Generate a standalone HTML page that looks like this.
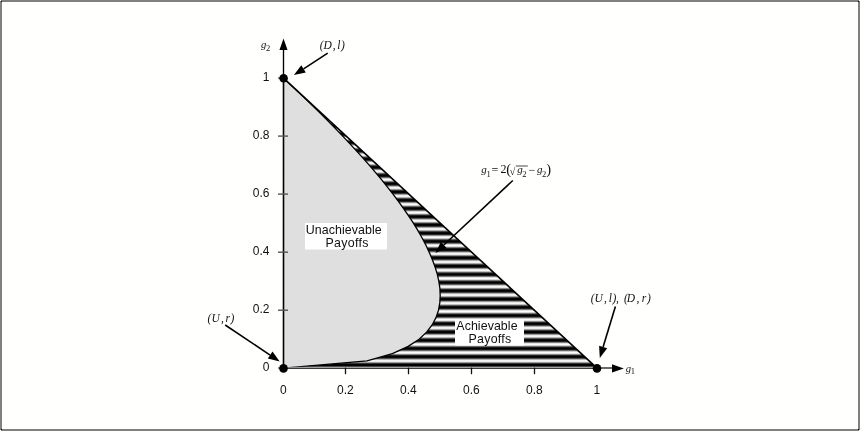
<!DOCTYPE html>
<html><head><meta charset="utf-8"><title>Payoffs</title>
<style>
html,body{margin:0;padding:0;background:#fffffd;}
body{width:860px;height:431px;overflow:hidden;position:relative;}
svg{position:absolute;left:0;top:0;display:block;}
.t{font-family:"Liberation Sans",sans-serif;font-size:12px;fill:#111;}
.l{font-family:"Liberation Sans",sans-serif;font-size:12.4px;fill:#111;letter-spacing:0.07px;}
.m{font-family:"Liberation Serif",serif;font-size:12px;fill:#111;}
.i{font-style:italic;}
.s{font-size:8.5px;}
</style></head><body>
<svg width="860" height="431" viewBox="0 0 860 431">
<defs>
<linearGradient id="sg" x1="0" y1="0" x2="0" y2="1">
<stop offset="0" stop-color="#000"/><stop offset="0.12" stop-color="#000"/>
<stop offset="0.42" stop-color="#fff"/><stop offset="0.58" stop-color="#fff"/>
<stop offset="0.88" stop-color="#000"/><stop offset="1" stop-color="#000"/>
</linearGradient>
<pattern id="st" x="0" y="365.0" width="40" height="8.24" patternUnits="userSpaceOnUse">
<rect x="0" y="0" width="40" height="8.24" fill="url(#sg)"/>
</pattern>
</defs>
<rect x="0" y="0" width="860" height="431" fill="#fffffd"/>
<rect x="1" y="1" width="858" height="429" fill="none" stroke="#808080" stroke-width="2"/>
<rect x="0" y="0" width="1" height="1" fill="#fffffd"/><rect x="859" y="0" width="1" height="1" fill="#fffffd"/>
<rect x="0" y="430" width="1" height="1" fill="#fffffd"/><rect x="859" y="430" width="1" height="1" fill="#fffffd"/>
<rect x="1" y="1" width="1" height="1" fill="#000"/><rect x="858" y="1" width="1" height="1" fill="#000"/>
<rect x="1" y="429" width="1" height="1" fill="#000"/><rect x="858" y="429" width="1" height="1" fill="#000"/>
<!-- achievable region (striped) -->
<polygon points="283.5,78.1 597.0,368.2 283.5,368.2" fill="url(#st)"/>
<!-- unachievable region -->
<polygon points="283.5,368.2 367.0,360.9 392.4,353.7 408.2,346.4 419.1,339.2 426.8,331.9 432.3,324.7 436.1,317.4 438.5,310.2 439.8,302.9 440.2,295.7 439.9,288.4 438.8,281.2 437.2,273.9 435.0,266.7 432.3,259.4 429.2,252.2 425.8,244.9 422.0,237.7 417.8,230.4 413.4,223.1 408.6,215.9 403.6,208.6 398.4,201.4 393.0,194.1 387.3,186.9 381.5,179.6 375.4,172.4 369.2,165.1 362.8,157.9 356.2,150.6 349.5,143.4 342.7,136.1 335.7,128.9 328.6,121.6 321.4,114.4 314.0,107.1 306.6,99.9 299.0,92.6 291.3,85.4 283.5,78.1" fill="#dfdfdf" stroke="#000" stroke-width="1.3" stroke-linejoin="round"/>
<!-- diagonal -->
<line x1="283.5" y1="78.1" x2="597.0" y2="368.2" stroke="#000" stroke-width="1.6"/>
<!-- axes -->
<line x1="283.5" y1="368.2" x2="283.5" y2="48" stroke="#000" stroke-width="1.35"/>
<line x1="284.5" y1="367.34999999999997" x2="595.0" y2="367.34999999999997" stroke="#d4d4d4" stroke-width="0.9"/>
<line x1="283.5" y1="368.4" x2="597.0" y2="368.4" stroke="#3a3a3a" stroke-width="1.2"/>
<line x1="597.0" y1="368.0" x2="613" y2="368.0" stroke="#6a6a6a" stroke-width="2"/>
<polygon points="283.5,38.6 279.45,50 287.55,50" fill="#000"/>
<polygon points="623.8,368.4 612.0,364.3 612.0,372.5" fill="#000"/>
<line x1="278.0" y1="310.2" x2="288.0" y2="310.2" stroke="#555" stroke-width="1.4"/>
<line x1="345.5" y1="368.2" x2="345.5" y2="373.7" stroke="#111" stroke-width="1.3" stroke-linecap="round"/>
<line x1="278.0" y1="252.2" x2="288.0" y2="252.2" stroke="#555" stroke-width="1.4"/>
<line x1="408.5" y1="368.2" x2="408.5" y2="373.7" stroke="#111" stroke-width="1.3" stroke-linecap="round"/>
<line x1="278.0" y1="194.1" x2="288.0" y2="194.1" stroke="#555" stroke-width="1.4"/>
<line x1="471.5" y1="368.2" x2="471.5" y2="373.7" stroke="#111" stroke-width="1.3" stroke-linecap="round"/>
<line x1="278.0" y1="136.1" x2="288.0" y2="136.1" stroke="#555" stroke-width="1.4"/>
<line x1="534.5" y1="368.2" x2="534.5" y2="373.7" stroke="#111" stroke-width="1.3" stroke-linecap="round"/>
<line x1="278.0" y1="368.0" x2="283.5" y2="368.0" stroke="#666" stroke-width="1.4"/>
<line x1="278.0" y1="78.0" x2="283.5" y2="78.0" stroke="#666" stroke-width="1.4"/>
<text class="t" x="269.5" y="371.4" text-anchor="end">0</text>
<text class="t" x="283.3" y="394.3" text-anchor="middle">0</text>
<text class="t" x="269.5" y="313.4" text-anchor="end">0.2</text>
<text class="t" x="345.3" y="394.3" text-anchor="middle">0.2</text>
<text class="t" x="269.5" y="255.4" text-anchor="end">0.4</text>
<text class="t" x="408.3" y="394.3" text-anchor="middle">0.4</text>
<text class="t" x="269.5" y="197.3" text-anchor="end">0.6</text>
<text class="t" x="471.3" y="394.3" text-anchor="middle">0.6</text>
<text class="t" x="269.5" y="139.3" text-anchor="end">0.8</text>
<text class="t" x="534.3" y="394.3" text-anchor="middle">0.8</text>
<text class="t" x="269.5" y="81.3" text-anchor="end">1</text>
<text class="t" x="596.8" y="394.3" text-anchor="middle">1</text>

<!-- dots -->
<circle cx="283.6" cy="78.19999999999999" r="4.3" fill="#000"/>
<circle cx="283.5" cy="368.4" r="4.3" fill="#000"/>
<circle cx="597.0" cy="368.4" r="4.3" fill="#000"/>
<!-- region labels -->
<rect x="305" y="223" width="82" height="26.5" fill="#fff"/>
<text class="l" x="305.8" y="234">Unachievable</text>
<text class="l" x="325.5" y="246.8" style="letter-spacing:0.3px">Payoffs</text>
<rect x="455" y="319.5" width="69" height="26" fill="#fff"/>
<text class="l" x="456.3" y="330.2">Achievable</text>
<text class="l" x="468.4" y="343" style="letter-spacing:0.3px">Payoffs</text>
<!-- axis names -->
<text class="m i" x="260.9" y="48.3" style="font-size:10.6px">g</text>
<text class="m s" x="265.9" y="51.4">2</text>
<text class="m i" x="625.8" y="371.6" style="font-size:10.6px">g</text>
<text class="m s" x="630.8" y="374.3">1</text>
<!-- point labels -->
<text class="m i" y="48.8" style="font-size:11.5px"><tspan x="319.7">(</tspan><tspan x="323.6">D</tspan><tspan x="332.8">,</tspan><tspan x="337.3">l</tspan><tspan x="340.9">)</tspan></text>
<text class="m i" y="321.7" style="font-size:11.5px"><tspan x="207.6">(</tspan><tspan x="211.6">U</tspan><tspan x="221.0">,</tspan><tspan x="225.4">r</tspan><tspan x="230.4">)</tspan></text>
<text class="m i" y="301.8" style="font-size:11.5px"><tspan x="590.7">(</tspan><tspan x="594.5">U</tspan><tspan x="603.9">,</tspan><tspan x="608.7">l</tspan><tspan x="612.5">)</tspan><tspan x="616.1">,</tspan><tspan x="623.9">(</tspan><tspan x="626.8">D</tspan><tspan x="636.5">,</tspan><tspan x="641.8">r</tspan><tspan x="647.0">)</tspan></text>
<!-- formula -->
<text class="m i" x="481.2" y="173" style="font-size:11px">g</text>
<text class="m s" x="486.4" y="177">1</text>
<text class="m" x="491.6" y="174.3">=</text>
<text class="m" x="500.4" y="173">2</text>
<text class="m" x="506.2" y="173.6" style="font-size:14.5px">(</text>
<text class="m" x="509.8" y="175.2" style="font-size:10px">√</text>
<line x1="515.8" y1="166" x2="527.8" y2="166" stroke="#333" stroke-width="0.9"/>
<text class="m i" x="517.2" y="173" style="font-size:11px">g</text>
<text class="m s" x="522.3" y="177">2</text>
<text class="m" x="528.6" y="173.8">−</text>
<text class="m i" x="536.9" y="173" style="font-size:11px">g</text>
<text class="m s" x="542" y="177">2</text>
<text class="m" x="546.3" y="173.6" style="font-size:14.5px">)</text>
<line x1="327.7" y1="53.2" x2="303.6" y2="68.8" stroke="#000" stroke-width="1.6"/>
<polygon points="293.9,75.1 301.3,65.3 305.8,72.4" fill="#000"/>
<line x1="225.2" y1="325.0" x2="270.1" y2="355.1" stroke="#000" stroke-width="1.6"/>
<polygon points="279.7,361.5 267.8,358.6 272.5,351.6" fill="#000"/>
<line x1="615.4" y1="306.5" x2="603.1" y2="347.0" stroke="#000" stroke-width="1.6"/>
<polygon points="599.8,358.0 599.1,345.8 607.2,348.2" fill="#000"/>
<line x1="512.8" y1="180.5" x2="443.8" y2="245.0" stroke="#000" stroke-width="1.6"/>
<polygon points="435.4,252.9 440.9,242.0 446.7,248.1" fill="#000"/>
</svg></body></html>
